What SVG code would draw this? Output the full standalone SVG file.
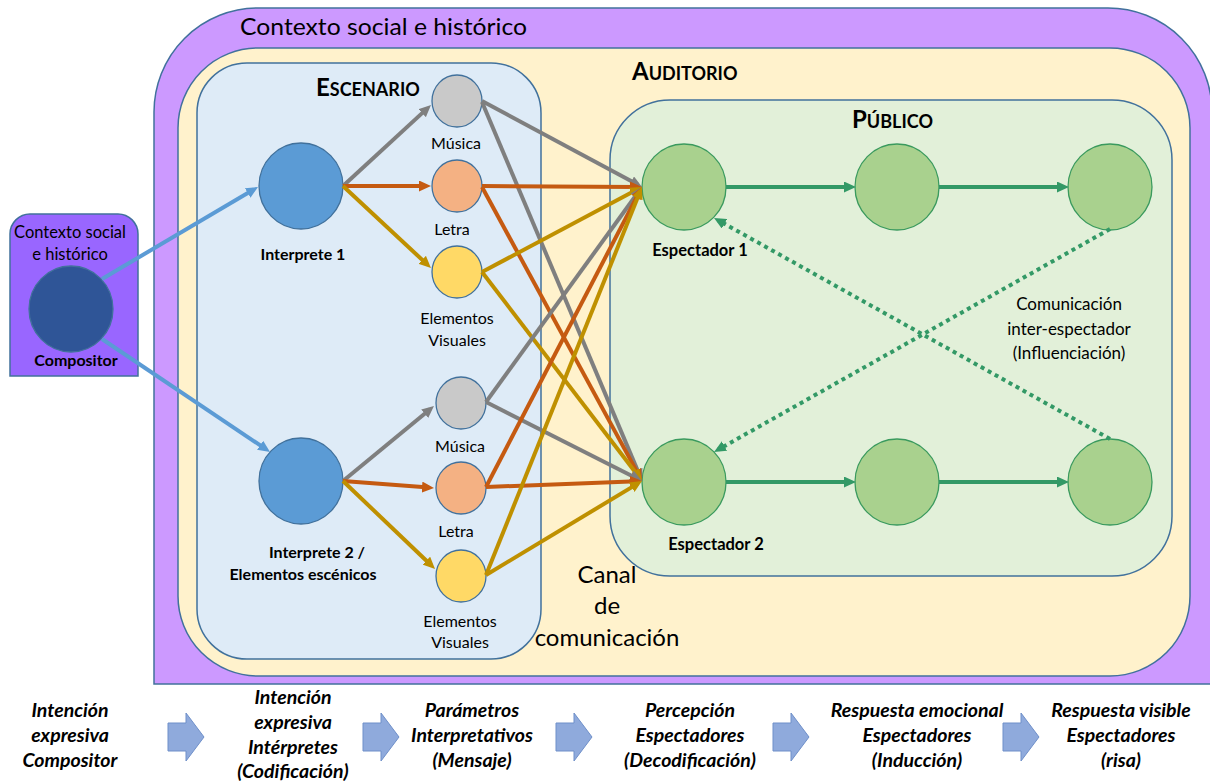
<svg xmlns="http://www.w3.org/2000/svg" width="1210" height="782" viewBox="0 0 1210 782">
  <style>
    text { font-family: Lato, "Liberation Sans", sans-serif; fill: #000; }
    .lbl { font-size: 16px; text-anchor: middle; }
    .ctx { font-size: 16.5px; text-anchor: middle; }
    .note { font-size: 17px; text-anchor: middle; }
    .canal { font-size: 24px; text-anchor: middle; }
    .bl { font-size: 16px; font-weight: bold; text-anchor: middle; }
    .bls { font-size: 16.5px; font-weight: bold; text-anchor: middle; }
    .cap { font-weight: bold; }
    .big { font-size: 24px; }
    .small { font-size: 18px; }
    .step { font-size: 19.5px; font-weight: bold; font-style: italic; text-anchor: middle; }
    .frame { stroke: #41719C; stroke-width: 1.5; }
    .node { stroke: #41719C; stroke-width: 1.3; }
    .spec { fill: #A9D18E; stroke: #3A9A5E; stroke-width: 1.3; }
    .ln { fill: none; stroke-width: 4; }
    .grey { stroke: #7F7F7F; }
    .orange { stroke: #C55A11; }
    .gold { stroke: #BF9000; }
    .blue { stroke: #5B9BD5; }
    .green { stroke: #339966; }
    .dot { stroke-dasharray: 4 4; }
    .flow { fill: #8FAADC; stroke: #6E8FC9; stroke-width: 1; }
  </style>
  <defs>
    <marker id="ah-grey" viewBox="0 0 12 11" refX="7" refY="5.5" markerWidth="12" markerHeight="11" markerUnits="userSpaceOnUse" orient="auto"><path d="M0,0 L12,5.5 L0,11 Z" fill="#7F7F7F"/></marker>
    <marker id="ah-orange" viewBox="0 0 12 11" refX="7" refY="5.5" markerWidth="12" markerHeight="11" markerUnits="userSpaceOnUse" orient="auto"><path d="M0,0 L12,5.5 L0,11 Z" fill="#C55A11"/></marker>
    <marker id="ah-gold" viewBox="0 0 12 11" refX="7" refY="5.5" markerWidth="12" markerHeight="11" markerUnits="userSpaceOnUse" orient="auto"><path d="M0,0 L12,5.5 L0,11 Z" fill="#BF9000"/></marker>
    <marker id="ah-blue" viewBox="0 0 12 11" refX="7" refY="5.5" markerWidth="12" markerHeight="11" markerUnits="userSpaceOnUse" orient="auto"><path d="M0,0 L12,5.5 L0,11 Z" fill="#5B9BD5"/></marker>
    <marker id="ah-green" viewBox="0 0 12 11" refX="7" refY="5.5" markerWidth="12" markerHeight="11" markerUnits="userSpaceOnUse" orient="auto"><path d="M0,0 L12,5.5 L0,11 Z" fill="#339966"/></marker>
    <path id="flow-arrow" d="M0,10 L18,10 L18,0 L36,24 L18,48 L18,38 L0,38 Z"/>
  </defs>

  <!-- Containers -->
  <g id="contexto">
    <path class="frame" fill="#CC99FF" d="M154,684 L154,112 A104,104 0 0 1 258,8 L1108,8 A104,104 0 0 1 1212,112 L1212,684 Z"/>
    <text x="240" y="35" font-size="23" textLength="287" lengthAdjust="spacingAndGlyphs">Contexto social e histórico</text>
  </g>
  <g id="auditorio">
    <rect class="frame" fill="#FFF2CC" x="178" y="48" width="1012" height="628" rx="80" ry="80"/>
    <text class="cap" x="632" y="80"><tspan class="big">A</tspan><tspan class="small">UDITORIO</tspan></text>
  </g>
  <g id="escenario">
    <rect class="frame" fill="#DEEBF7" x="197" y="63" width="344" height="596" rx="50" ry="50"/>
    <text class="cap" x="316" y="96"><tspan class="big">E</tspan><tspan class="small">SCENARIO</tspan></text>
  </g>
  <g id="publico">
    <rect class="frame" fill="#E2F0D9" x="610" y="100" width="562" height="476" rx="60" ry="60"/>
    <text class="cap" x="852" y="128"><tspan class="big">P</tspan><tspan class="small">ÚBLICO</tspan></text>
  </g>

  <!-- Composer -->
  <g id="compositor">
    <path class="frame" fill="#9966FF" d="M10,376 L10,234 A20,20 0 0 1 30,214 L118,214 A20,20 0 0 1 138,234 L138,376 Z"/>
    <text class="ctx" x="70" y="238">Contexto social</text>
    <text class="ctx" x="70" y="260">e histórico</text>
    <ellipse class="node" fill="#2F5597" cx="71" cy="309" rx="42" ry="43"/>
    <text class="bl" x="76" y="366">Compositor</text>
  </g>

  <!-- Performers -->
  <g id="interprete1">
    <ellipse class="node" fill="#5B9BD5" cx="301" cy="186" rx="42" ry="43"/>
    <text class="bl" x="303" y="260">Interprete 1</text>
  </g>
  <g id="interprete2">
    <ellipse class="node" fill="#5B9BD5" cx="301" cy="481" rx="42" ry="43"/>
    <text class="bl" x="317" y="558">Interprete 2 /</text>
    <text class="bl" x="303" y="580">Elementos escénicos</text>
  </g>

  <!-- Interpretive parameters, performer 1 -->
  <g id="musica1">
    <ellipse class="node" fill="#C9C9C9" cx="457" cy="101" rx="25" ry="26"/>
    <text class="lbl" x="456" y="149">Música</text>
  </g>
  <g id="letra1">
    <ellipse class="node" fill="#F4B183" cx="457" cy="186" rx="25" ry="26"/>
    <text class="lbl" x="452" y="235">Letra</text>
  </g>
  <g id="visuales1">
    <ellipse class="node" fill="#FFD966" cx="457" cy="272" rx="25" ry="26"/>
    <text class="lbl" x="457" y="324">Elementos</text>
    <text class="lbl" x="457" y="346">Visuales</text>
  </g>

  <!-- Interpretive parameters, performer 2 -->
  <g id="musica2">
    <ellipse class="node" fill="#C9C9C9" cx="461" cy="403" rx="25" ry="26"/>
    <text class="lbl" x="460" y="452">Música</text>
  </g>
  <g id="letra2">
    <ellipse class="node" fill="#F4B183" cx="461" cy="488" rx="25" ry="26"/>
    <text class="lbl" x="456" y="537">Letra</text>
  </g>
  <g id="visuales2">
    <ellipse class="node" fill="#FFD966" cx="461" cy="576" rx="25" ry="26"/>
    <text class="lbl" x="460" y="627">Elementos</text>
    <text class="lbl" x="460" y="648">Visuales</text>
  </g>

  <!-- Spectators -->
  <g id="espectador1">
    <ellipse class="spec" cx="684" cy="187" rx="42" ry="43"/>
    <text class="bls" x="700" y="256">Espectador 1</text>
  </g>
  <g id="espectador1b"><ellipse class="spec" cx="897" cy="187" rx="42" ry="43"/></g>
  <g id="espectador1c"><ellipse class="spec" cx="1110" cy="187" rx="42" ry="43"/></g>
  <g id="espectador2">
    <ellipse class="spec" cx="684" cy="482" rx="42" ry="43"/>
    <text class="bls" x="716" y="550">Espectador 2</text>
  </g>
  <g id="espectador2b"><ellipse class="spec" cx="897" cy="482" rx="42" ry="43"/></g>
  <g id="espectador2c"><ellipse class="spec" cx="1110" cy="482" rx="42" ry="43"/></g>

  <!-- Connectors -->
  <g id="connectors">
    <!-- compositor to performers -->
    <line class="ln blue" x1="102" y1="279" x2="253.7" y2="189.5" marker-end="url(#ah-blue)"/>
    <line class="ln blue" x1="102" y1="339" x2="265.9" y2="449.2" marker-end="url(#ah-blue)"/>
    <!-- performer 1 to parameters -->
    <line class="ln grey" x1="343" y1="186" x2="427.3" y2="108.4" marker-end="url(#ah-grey)"/>
    <line class="ln orange" x1="343" y1="186" x2="426" y2="186" marker-end="url(#ah-orange)"/>
    <line class="ln gold" x1="343" y1="186" x2="427.3" y2="264.6" marker-end="url(#ah-gold)"/>
    <!-- performer 2 to parameters -->
    <line class="ln grey" x1="343" y1="481" x2="430.1" y2="409.2" marker-end="url(#ah-grey)"/>
    <line class="ln orange" x1="343" y1="481" x2="429" y2="487.6" marker-end="url(#ah-orange)"/>
    <line class="ln gold" x1="343" y1="481" x2="431.4" y2="565.5" marker-end="url(#ah-gold)"/>
    <!-- parameters to spectator 2 -->
    <line class="ln grey" x1="482" y1="102" x2="640.1" y2="476.4" marker-end="url(#ah-grey)"/>
    <line class="ln orange" x1="482" y1="187" x2="639.6" y2="476.6" marker-end="url(#ah-orange)"/>
    <line class="ln gold" x1="482" y1="272" x2="639" y2="477" marker-end="url(#ah-gold)"/>
    <line class="ln grey" x1="486" y1="402" x2="637.5" y2="478.7" marker-end="url(#ah-grey)"/>
    <line class="ln orange" x1="486" y1="487" x2="637" y2="481.2" marker-end="url(#ah-orange)"/>
    <line class="ln gold" x1="486" y1="575" x2="637.7" y2="483.6" marker-end="url(#ah-gold)"/>
    <!-- parameters to spectator 1 -->
    <line class="ln grey" x1="482" y1="101" x2="637.6" y2="184.6" marker-end="url(#ah-grey)"/>
    <line class="ln orange" x1="482" y1="186" x2="637" y2="187" marker-end="url(#ah-orange)"/>
    <line class="ln gold" x1="482" y1="272" x2="637.6" y2="189.3" marker-end="url(#ah-gold)"/>
    <line class="ln grey" x1="486" y1="402" x2="639.1" y2="191" marker-end="url(#ah-grey)"/>
    <line class="ln orange" x1="486" y1="487" x2="639.7" y2="191.4" marker-end="url(#ah-orange)"/>
    <line class="ln gold" x1="486" y1="575" x2="640.1" y2="191.6" marker-end="url(#ah-gold)"/>
    <!-- spectator chains -->
    <line class="ln green" x1="726" y1="187" x2="851" y2="187" marker-end="url(#ah-green)"/>
    <line class="ln green" x1="939" y1="187" x2="1064" y2="187" marker-end="url(#ah-green)"/>
    <line class="ln green" x1="726" y1="482" x2="851" y2="482" marker-end="url(#ah-green)"/>
    <line class="ln green" x1="939" y1="482" x2="1064" y2="482" marker-end="url(#ah-green)"/>
    <!-- inter-spectator influence -->
    <line class="ln green dot" x1="1110" y1="229" x2="718.4" y2="449.5" marker-end="url(#ah-green)"/>
    <line class="ln green dot" x1="1110" y1="439" x2="718.4" y2="220.4" marker-end="url(#ah-green)"/>
  </g>

  <!-- Free labels -->
  <g id="influencia-label">
    <text class="note" x="1069" y="310">Comunicación</text>
    <text class="note" x="1069" y="335">inter-espectador</text>
    <text class="note" x="1069" y="359">(Influenciación)</text>
  </g>
  <g id="canal-label">
    <text class="canal" x="607" y="583">Canal</text>
    <text class="canal" x="607" y="614">de</text>
    <text class="canal" x="607" y="646">comunicación</text>
  </g>

  <!-- Process stages -->
  <g id="etapas">
    <text class="step" x="70" y="717">Intención</text>
    <text class="step" x="70" y="742">expresiva</text>
    <text class="step" x="70" y="767">Compositor</text>

    <use href="#flow-arrow" class="flow" x="168" y="713"/>

    <text class="step" x="293" y="704">Intención</text>
    <text class="step" x="293" y="729">expresiva</text>
    <text class="step" x="293" y="754">Intérpretes</text>
    <text class="step" x="293" y="778">(Codificación)</text>

    <use href="#flow-arrow" class="flow" x="363" y="713"/>

    <text class="step" x="472" y="717">Parámetros</text>
    <text class="step" x="472" y="742">Interpretativos</text>
    <text class="step" x="472" y="767">(Mensaje)</text>

    <use href="#flow-arrow" class="flow" x="556" y="713"/>

    <text class="step" x="690" y="717">Percepción</text>
    <text class="step" x="690" y="742">Espectadores</text>
    <text class="step" x="690" y="767">(Decodificación)</text>

    <use href="#flow-arrow" class="flow" x="773" y="713"/>

    <text class="step" x="917" y="717">Respuesta emocional</text>
    <text class="step" x="917" y="742">Espectadores</text>
    <text class="step" x="917" y="767">(Inducción)</text>

    <use href="#flow-arrow" class="flow" x="1003" y="713"/>

    <text class="step" x="1121" y="717">Respuesta visible</text>
    <text class="step" x="1121" y="742">Espectadores</text>
    <text class="step" x="1121" y="767">(risa)</text>
  </g>
</svg>
